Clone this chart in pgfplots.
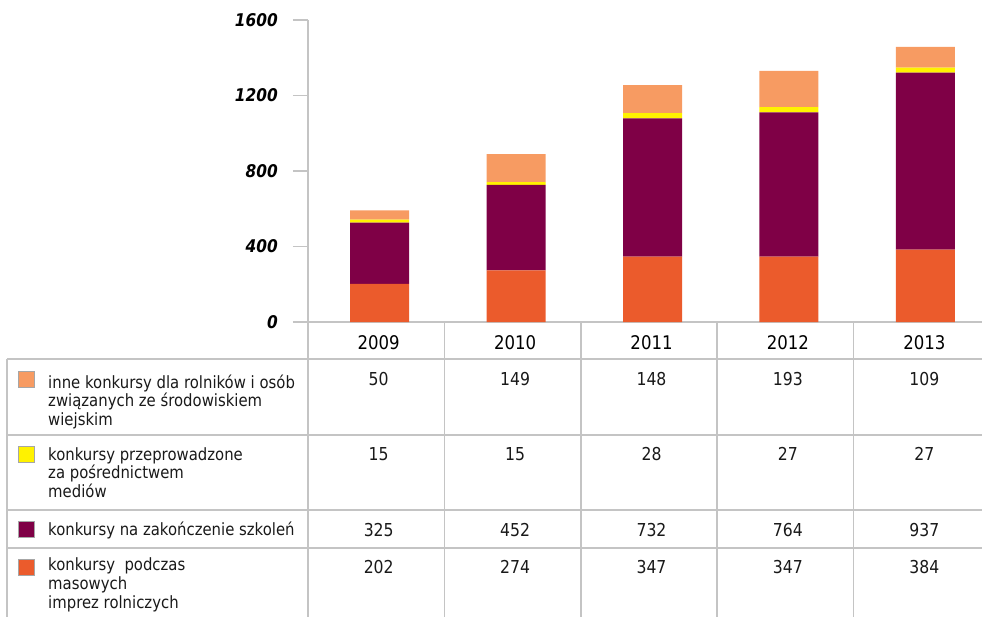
\documentclass[border=0pt]{standalone}
\usepackage{pgfplots}
\usepackage{pgfplotstable}
\pgfplotsset{compat=1.18}
\usepackage{fontspec}
\setmainfont{DejaVu Sans}[FakeStretch=0.88]

\definecolor{cImprezy}{RGB}{235,91,44}
\definecolor{cSzkolenia}{RGB}{127,0,70}
\definecolor{cMedia}{RGB}{255,242,0}
\definecolor{cInne}{RGB}{247,155,98}
\definecolor{siatka}{RGB}{196,196,196}

\newcommand\legfont{\fontsize{16.9}{18.7}\selectfont}
\newcommand\numfont{\fontsize{17.8}{20}\selectfont}

% x = srodek kategorii (0.5, 1.5, ...)
\pgfplotstableread{
x   rok  imprezy szkolenia media inne
0.5 2009 202     325       15    50
1.5 2010 274     452       15    149
2.5 2011 347     732       28    148
3.5 2012 347     764       27    193
4.5 2013 384     937       27    109
}\dane

\begin{document}
\begin{tikzpicture}
\begin{axis}[
  scale only axis, width=674pt, height=302pt,
  xmin=0, xmax=4.941, ymin=0, ymax=1600,
  ybar stacked, bar width=59pt, bar shift=3.5pt,
  axis x line*=bottom, axis y line*=left,
  axis line style={siatka, line width=1.5pt, -},
  xtick={0.5,1.5,2.5,3.5,4.5},
  xticklabels={2009,2010,2011,2012,2013},
  x tick style={draw=none},
  xticklabel style={font=\fontsize{18.8}{20}\selectfont, anchor=base, inner sep=0pt, yshift=-12pt, xshift=2.5pt},
  ytick={0,400,800,1200,1600},
  y tick style={siatka, line width=1.5pt},
  tick align=outside, major tick length=15pt,
  yticklabel style={font=\fontsize{17.5}{19}\selectfont\bfseries\itshape, anchor=east, inner sep=0pt, xshift=-15pt,
    /pgf/number format/1000 sep={}, /pgf/number format/assume math mode=true},
  clip=false,
]
  \addplot[fill=cImprezy, draw=none] table[x=x, y=imprezy]{\dane};
  \addplot[fill=cSzkolenia, draw=none] table[x=x, y=szkolenia]{\dane};
  \addplot[fill=cMedia, draw=none] table[x=x, y=media]{\dane};
  \addplot[fill=cInne, draw=none] table[x=x, y=inne]{\dane};
\end{axis}

% tabela pod wykresem, wspolrzedne w pikselach obrazu (y w dol)
\begin{scope}[shift={(-308pt,322pt)}, x=1pt, y=1pt]
  \begin{scope}[siatka, line width=1.5pt]
    \foreach \yy in {359,435,510,548} \draw (7,-\yy) -- (990,-\yy);
    \draw (7,-359) -- (7,-620);
    \foreach \xx in {308,444.4,580.8,717.2,853.6} \draw (\xx,-322) -- (\xx,-620);
  \end{scope}

  % legenda
  \foreach \c/\yc in {cInne/379, cMedia/454, cSzkolenia/529, cImprezy/567}
    \draw[fill=\c, draw=gray!70, line width=0.8pt] (18,-\yc+8) rectangle (34,-\yc-8);

  \begin{scope}[every node/.style={anchor=base west, inner sep=0pt, font=\legfont, text=black!90}]
    \node at (48,-388) {inne konkursy dla rolników i osób};
    \node at (48,-406.7) {związanych ze środowiskiem};
    \node at (48,-425.4) {wiejskim};
    \node at (48,-460) {konkursy przeprowadzone};
    \node at (48,-478.7) {za pośrednictwem};
    \node at (48,-497.4) {mediów};
    \node at (48,-535) {konkursy na zakończenie szkoleń};
    \node at (48,-570.7) {konkursy\ \ podczas};
    \node at (48,-589.4) {masowych};
    \node at (48,-608.1) {imprez rolniczych};
  \end{scope}

  % wartosci w tabeli
  \foreach \i in {0,...,4} {
    \foreach \col/\yb in {inne/385, media/460, szkolenia/536, imprezy/573} {
      \pgfplotstablegetelem{\i}{\col}\of\dane
      \node[anchor=base, inner sep=0pt, font=\numfont, text=black!90] at ({378.7+136.4*\i},-\yb) {\pgfplotsretval};
    }
  }

  \pgfresetboundingbox
  \path[use as bounding box] (0,0) rectangle (982,-616);
\end{scope}
\end{tikzpicture}
\end{document}
